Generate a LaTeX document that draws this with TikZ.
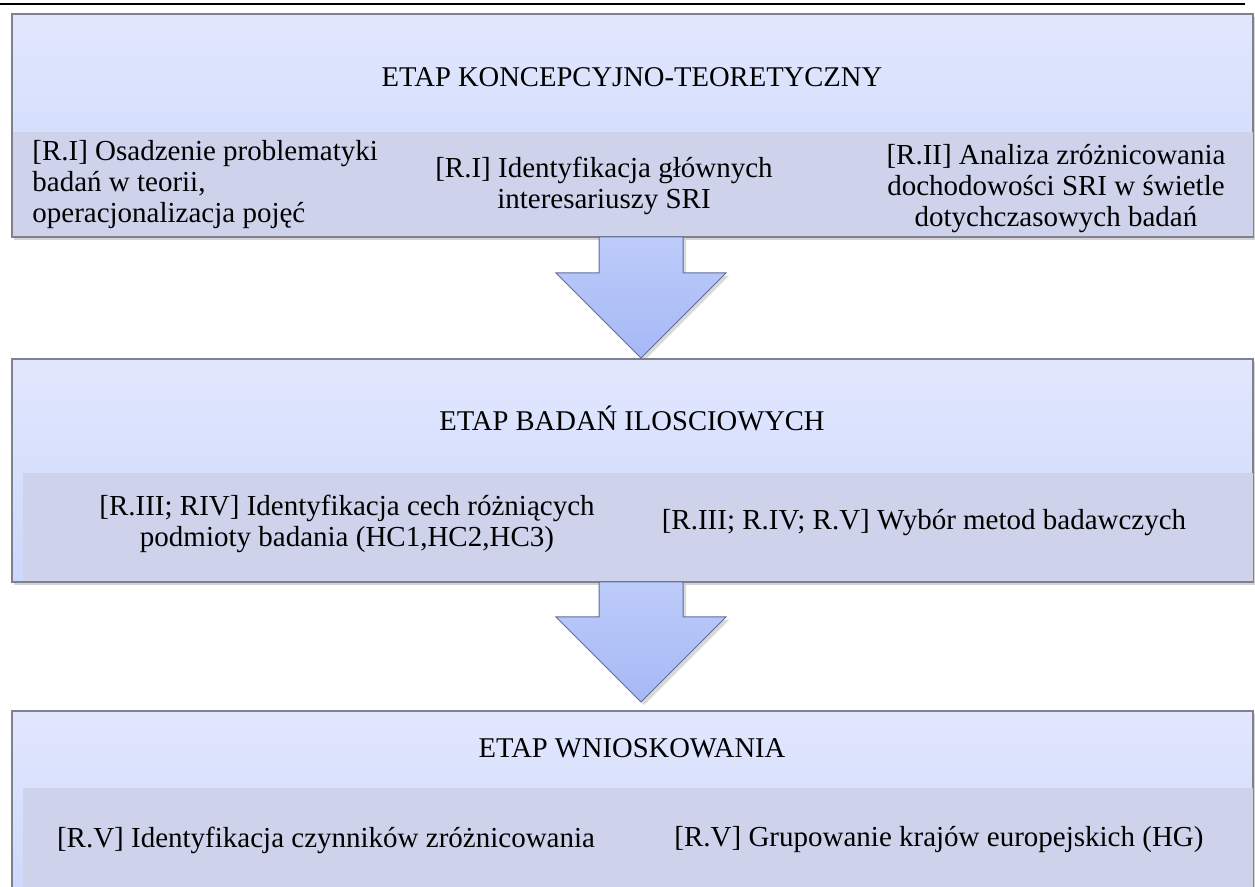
\documentclass[tikz,border=0pt]{standalone}
\usepackage{fontspec}
\setmainfont{Liberation Serif}
\usetikzlibrary{shadows}
\definecolor{boxtop}{HTML}{E2E7FD}
\definecolor{boxbot}{HTML}{CBD8FC}
\definecolor{bandc}{HTML}{CED3EB}
\definecolor{boxline}{HTML}{80808F}
\definecolor{arrtop}{HTML}{BDCBFA}
\definecolor{arrbot}{HTML}{A6B9F6}
\definecolor{arrline}{HTML}{5F6E98}
\tikzset{
  stagebox/.style={draw=boxline, line width=0.6pt, top color=boxtop, bottom color=boxbot,
    drop shadow={shadow xshift=1.2pt, shadow yshift=-1.5pt, opacity=0.35}},
  band/.style={fill=bandc, draw=none},
  bigarrow/.style={draw=arrline, line width=0.5pt, top color=arrtop, bottom color=arrbot,
    drop shadow={shadow xshift=1.5pt, shadow yshift=-1.5pt, opacity=0.3}},
  title/.style={font=\fontsize{14.3}{16}\selectfont, inner sep=0pt},
  item/.style={font=\fontsize{14.5}{15.5}\selectfont, inner sep=0pt, align=center},
  itemL/.style={font=\fontsize{14.5}{15.5}\selectfont, inner sep=0pt, align=left}
}
\begin{document}
\begin{tikzpicture}[x=0.5pt,y=-0.5pt]
\useasboundingbox (0,0) rectangle (1255,887);
\clip (0,0) rectangle (1255,887);
% top rule
\draw[line width=1pt] (0,4) -- (1245,4);
% box 1
\path[stagebox] (12,14) rectangle (1253,237);
\path[band] (12.5,132) rectangle (1252.5,236.5);
\node[title] (t1) at (632,77) {ETAP KONCEPCYJNO-TEORETYCZNY};
\node[itemL, anchor=west] (a1) at (32,185) {[R.I] Osadzenie problematyki\\badań w teorii,\\operacjonalizacja pojęć};
\node[item] (a2) at (604,186) {[R.I] Identyfikacja głównych\\interesariuszy SRI};
\node[item] (a3) at (1056,189) {[R.II] Analiza zróżnicowania\\dochodowości SRI w świetle\\dotychczasowych badań};
% arrow 1
\path[bigarrow] (599,237) -- (683,237) -- (683,273) -- (726,273) -- (641,358) -- (556,273) -- (599,273) -- cycle;
% box 2
\path[stagebox] (12,359) rectangle (1253,582);
\path[band] (23,473) rectangle (1252.5,581.5);
\node[title] (t2) at (632,418) {ETAP BADAŃ ILOSCIOWYCH};
\node[item] (b1) at (347,524) {[R.III; RIV] Identyfikacja cech różniących\\podmioty badania (HC1,HC2,HC3)};
\node[item] (b2) at (924,523) {[R.III; R.IV; R.V] Wybór metod badawczych};
% arrow 2
\path[bigarrow] (599,582) -- (683,582) -- (683,617) -- (726,617) -- (641,702) -- (556,617) -- (599,617) -- cycle;
% box 3
\path[stagebox] (12,711) rectangle (1253,910);
\path[band] (23,788) rectangle (1252.5,909);
\node[title] (t3) at (632,748) {ETAP WNIOSKOWANIA};
\node[item] (c1) at (326,840) {[R.V] Identyfikacja czynników zróżnicowania};
\node[item] (c2) at (939,840) {[R.V] Grupowanie krajów europejskich (HG)};
\end{tikzpicture}
\end{document}
